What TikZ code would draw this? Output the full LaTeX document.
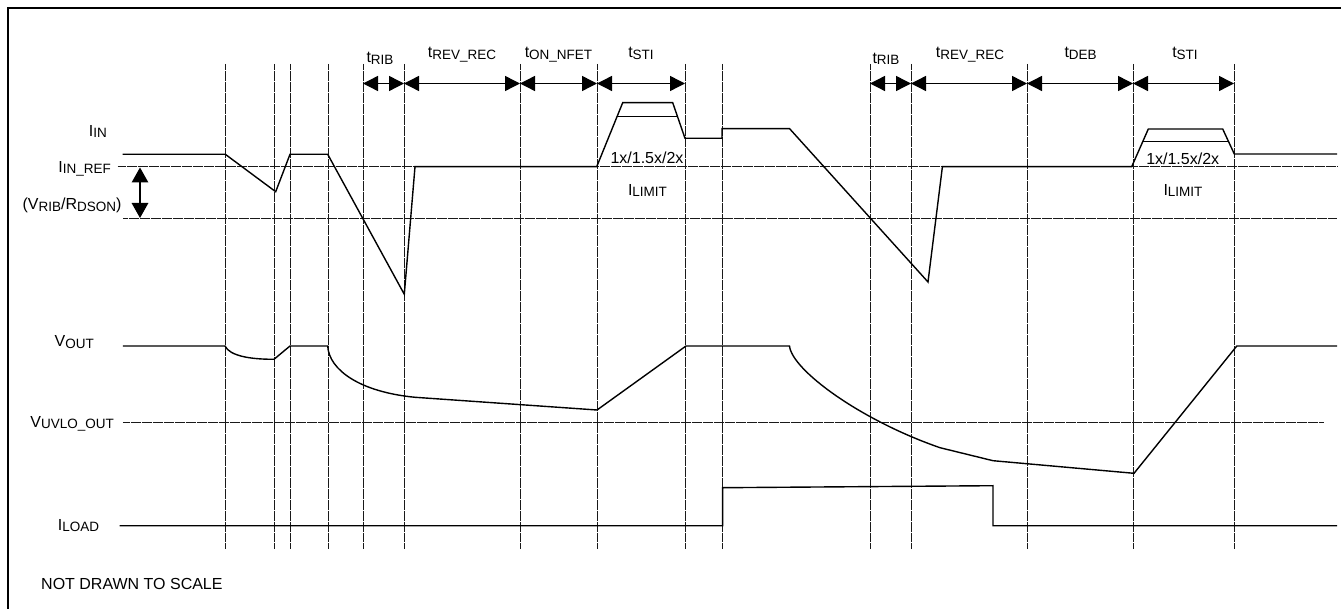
\documentclass[tikz,border=0pt]{standalone}
\usepackage{fontspec}
\setmainfont{Liberation Sans}
\usetikzlibrary{arrows.meta}
\newcommand\lsub[1]{\raisebox{-1.2pt}{\fontsize{13.5}{15}\selectfont #1}}
\tikzset{
  lbl/.style={font=\fontsize{16}{19}\selectfont, inner sep=0pt},
  wave/.style={line width=1.4pt, line join=miter},
  grid/.style={line width=0.9pt, dash pattern=on 0.6pt off 0.5pt, black!90},
  dimarrow/.style={line width=1.4pt, {Triangle[length=15pt,width=15pt]}-{Triangle[length=15pt,width=15pt]}},
  frame/.style={line width=2pt}
}
\begin{document}
\begin{tikzpicture}[x=1pt,y=-1pt]
\useasboundingbox (0,0) rectangle (1341,609);
% frame (top and left edges visible)
\draw[frame] (8.3,609) -- (8.3,8.3) -- (1341,8.3);

% vertical dotted lines
\foreach \x in {225,274,290,328,363,404,520,597,685,722,870,911,1027,1133,1234}
  \draw[grid] (\x,64) -- (\x,549);

% horizontal dotted reference lines
\draw[grid] (117.7,166.7) -- (1337,166.7);
\draw[grid] (123,218.3) -- (1337,218.3);
\draw[grid] (122.8,422.7) -- (1323,422.7);

% time interval arrows
\foreach \a/\b in {363/404,404/520,520/597,597/685,870/911,911/1027,1027/1133,1133/1234}
  \draw[dimarrow] (\a,83.5) -- (\b,83.5);

% VRIB/RDSON arrow
\coordinate (va) at (140,167.5);
\coordinate (vb) at (140,218);
\draw[line width=1.4pt, {Triangle[length=15pt,width=16.5pt]}-{Triangle[length=15pt,width=16.5pt]}] (va) -- (vb);

% I_IN waveform
\draw[wave] (122.7,154.3) -- (225.3,154.3) -- (275.7,191.7) -- (290,154.3) -- (327.7,154.3)
  -- (404.3,294.3) -- (415,166.7) -- (596.7,166.7) -- (622.7,102.7) -- (672.7,102.7)
  -- (685,138.3) -- (722,138.3) -- (722,128.7) -- (789.6,128.7) -- (928,282)
  -- (942.4,166.7) -- (1131.7,166.7) -- (1148.3,129) -- (1222.7,129) -- (1234.3,154) -- (1337,154);
% inner current limit lines
\draw[wave] (617,116.7) -- (677.5,116.7);
\draw[wave] (1142.7,141.7) -- (1228.6,141.7);

% V_OUT waveform
\draw[wave] (122.8,346) -- (225,346) .. controls (230,356) and (250,359.3) .. (274,359.3)
  -- (290,346) -- (327.7,346) .. controls (329,370) and (360,392) .. (415.2,397.3)
  -- (597,410) -- (686,346) -- (789.5,346) .. controls (792,370) and (860,420) .. (940,447.7)
  -- (993,460.7) -- (1134,473.3) -- (1236.8,346) -- (1337,346);

% I_LOAD waveform
\draw[wave] (119.6,525.7) -- (722.6,525.7) -- (722.6,487.7) -- (993,485.7) -- (993,525.7) -- (1337,525.7);

% left labels
\node[lbl, anchor=base east] (lin) at (107,136.7) {I\lsub{IN}};
\node[lbl, anchor=base east] (linref) at (111,172.5) {I\lsub{IN\_REF}};
\node[lbl, anchor=base east] (lrib) at (121.7,210) {(V\lsub{RIB}/R\lsub{DSON})};
\node[lbl, anchor=base east] (lvout) at (94,347) {V\lsub{OUT}};
\node[lbl, anchor=base east] (luvlo) at (114,427.5) {V\lsub{UVLO\_OUT}};
\node[lbl, anchor=base east] (lload) at (99.3,530.5) {I\lsub{LOAD}};
\node[lbl, anchor=base west] (lnote) at (41,589) {NOT DRAWN TO SCALE};

% timing labels
\node[lbl, anchor=base] (t1) at (380,63) {t\lsub{RIB}};
\node[lbl, anchor=base] (t2) at (462,58) {t\lsub{REV\_REC}};
\node[lbl, anchor=base] (t3) at (558.5,58) {t\lsub{ON\_NFET}};
\node[lbl, anchor=base] (t4) at (641,58) {t\lsub{STI}};
\node[lbl, anchor=base] (t5) at (886,63.5) {t\lsub{RIB}};
\node[lbl, anchor=base] (t6) at (970,58) {t\lsub{REV\_REC}};
\node[lbl, anchor=base] (t7) at (1080.6,58) {t\lsub{DEB}};
\node[lbl, anchor=base] (t8) at (1185,58) {t\lsub{STI}};

% current limit labels
\node[lbl, anchor=base] (m1) at (647,163.3) {1x/1.5x/2x};
\node[lbl, anchor=base] (il1) at (647.5,195.5) {I\lsub{LIMIT}};
\node[lbl, anchor=base] (m2) at (1182.7,165) {1x/1.5x/2x};
\node[lbl, anchor=base] (il2) at (1183,195.5) {I\lsub{LIMIT}};
\end{tikzpicture}
\end{document}
